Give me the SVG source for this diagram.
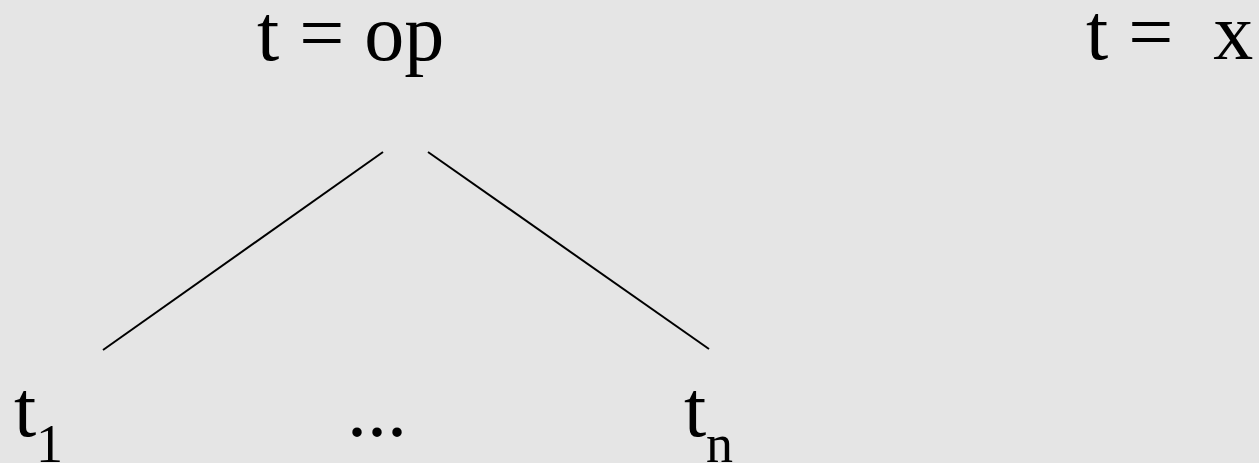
<svg xmlns="http://www.w3.org/2000/svg" width="1259" height="463" viewBox="0 0 1259 463">
<style>
.t{font-family:"Liberation Serif","Times New Roman",serif;font-size:80px;fill:#000}
.sub{font-size:54px}
.edge{stroke:#000;stroke-width:2;fill:none;stroke-linecap:butt}
</style>
<rect x="0" y="0" width="1259" height="463" fill="#e5e5e5"/>
<g id="connectors">
<line class="edge" x1="383" y1="152" x2="103" y2="350"/>
<line class="edge" x1="428" y1="152" x2="709" y2="349"/>
</g>
<g id="node-root"><text class="t" x="257" y="60">t = op</text></g>
<g id="node-var"><text class="t" x="1086" y="59">t =&#160; x</text></g>
<g id="node-t1"><text class="t" x="14" y="436">t<tspan class="sub" x="36" y="462">1</tspan></text></g>
<g id="node-dots"><text class="t" x="347" y="436">...</text></g>
<g id="node-tn"><text class="t" x="684" y="436">t<tspan class="sub" x="706" y="462">n</tspan></text></g>
</svg>
